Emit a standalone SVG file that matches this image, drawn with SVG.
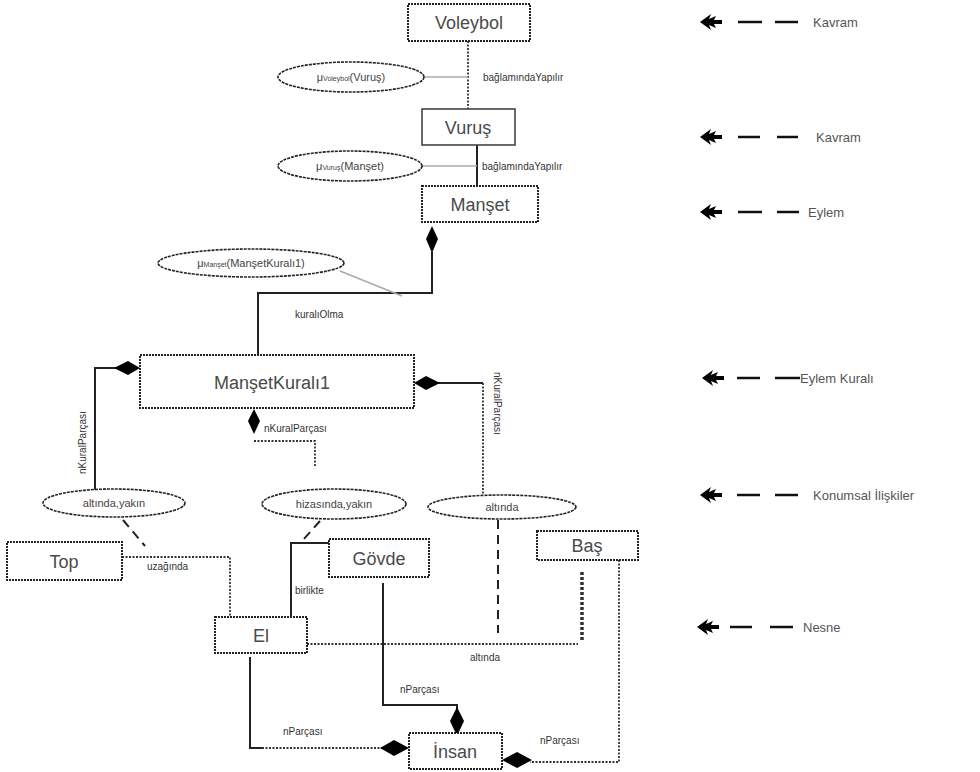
<svg xmlns="http://www.w3.org/2000/svg" width="980" height="772" viewBox="0 0 980 772">
  <style>
    .box { fill: #ffffff; stroke: #222222; stroke-width: 2; stroke-dasharray: 2 1; }
    .boxs { fill: #ffffff; stroke: #444444; stroke-width: 1.6; }
    .ell { fill: #ffffff; stroke: #222222; stroke-width: 1.6; stroke-dasharray: 3 1; }
    .nt { font-family: "Liberation Sans", Arial, sans-serif; font-size: 18px; fill: #4a4a4a; text-anchor: middle; }
    .et { font-family: "Liberation Sans", Arial, sans-serif; font-size: 11px; fill: #444444; text-anchor: middle; }
    .lb { font-family: "Liberation Sans", Arial, sans-serif; font-size: 10px; fill: #333333; }
    .lg { font-family: "Liberation Sans", Arial, sans-serif; font-size: 13px; fill: #555555; }
    .solid { fill: none; stroke: #222222; stroke-width: 2; }
    .dot { fill: none; stroke: #333333; stroke-width: 1.8; stroke-dasharray: 2 1.5; }
    .gray { fill: none; stroke: #aaaaaa; stroke-width: 1.5; }
    .dash { fill: none; stroke: #222222; stroke-width: 2; stroke-dasharray: 9 6; }
    .heavydot { fill: none; stroke: #333333; stroke-width: 3.5; stroke-dasharray: 3 2; }
    .dia { fill: #000000; }
    .ldash { stroke: #111111; stroke-width: 2.5; }
  </style>
  <defs>
    <!-- legend arrowhead: filled head with a short notched tail -->
    <polygon id="arr" points="0,0 11,-8 9,-3 16,-6 14,-2 22,-2 22,2 14,2 16,6 9,3 11,8" fill="#000000"/>
  </defs>
  <rect width="980" height="772" fill="#ffffff"/>

  <!-- connectors -->
  <g id="connectors">
    <!-- Voleybol - Vurus -->
    <line class="dot" x1="468" y1="41" x2="468" y2="109" stroke-width="2.5"/>
    <line class="gray" x1="425" y1="77" x2="468" y2="77"/>
    <text class="lb" x="483" y="81">bağlamındaYapılır</text>
    <!-- Vurus - Manset -->
    <line class="solid" x1="477" y1="145" x2="477" y2="186"/>
    <line class="gray" x1="422" y1="166" x2="477" y2="166"/>
    <text class="lb" x="482" y="170">bağlamındaYapılır</text>
    <!-- Manset - MansetKurali1 -->
    <polyline class="solid" points="432,252 432,293 258,293 258,355"/>
    <polygon class="dia" points="432,226 438,239 432,253 426,239"/>
    <line class="gray" x1="340" y1="271" x2="402" y2="296"/>
    <text class="lb" x="295" y="318">kuralıOlma</text>
    <!-- left rule part -->
    <polyline class="solid" points="118,368 95,368 95,490"/>
    <polygon class="dia" points="140,368 128,361 114,368 128,375"/>
    <text class="lb" transform="translate(86,474) rotate(-90)">nKuralParçası</text>
    <!-- right rule part -->
    <polyline class="solid" points="438,383 483,383"/>
    <line class="dot" x1="483" y1="383" x2="483" y2="495" stroke="#777777" stroke-width="2.5"/>
    <polygon class="dia" points="414,383 426,376 440,383 426,390"/>
    <text class="lb" transform="translate(494,372) rotate(90)">nKuralParçası</text>
    <!-- bottom rule part -->
    <polygon class="dia" points="254,409 260,421 254,434 248,421"/>
    <polyline class="dot" points="254,441 315,441 315,466"/>
    <text class="lb" x="264" y="432">nKuralParçası</text>
    <!-- relation ellipses to objects -->
    <line class="dash" x1="123" y1="520" x2="145" y2="546" stroke-dasharray="6 5"/>
    <line class="dash" x1="320" y1="521" x2="303" y2="540" stroke-dasharray="6 5"/>
    <line class="dash" x1="498" y1="520" x2="498" y2="633"/>
    <!-- Top - El -->
    <polyline class="dot" points="122,557 230,557 230,617"/>
    <text class="lb" x="147" y="570">uzağında</text>
    <!-- Govde - El -->
    <polyline class="solid" points="329,543 291,543 291,617"/>
    <text class="lb" x="295" y="594">birlikte</text>
    <!-- El - Bas -->
    <line class="dot" x1="307" y1="644" x2="578" y2="644" stroke-dasharray="3 2"/>
    <line class="heavydot" x1="582" y1="572" x2="582" y2="642"/>
    <text class="lb" x="470" y="661">altında</text>
    <!-- Govde - Insan -->
    <polyline class="solid" points="383,583 383,705 457,705 457,709"/>
    <polygon class="dia" points="457,707 464,721 457,736 450,721"/>
    <text class="lb" x="400" y="693">nParçası</text>
    <!-- El - Insan -->
    <polyline class="solid" points="250,657 250,748 262,748"/>
    <line class="dot" x1="262" y1="748" x2="382" y2="748" stroke-dasharray="3 2"/>
    <polygon class="dia" points="380,748 394,740 409,748 394,756"/>
    <text class="lb" x="283" y="735">nParçası</text>
    <!-- Bas - Insan -->
    <polyline class="dot" points="619,560 619,762 530,762" stroke-width="2.5"/>
    <polygon class="dia" points="502,760 517,752 532,760 517,768"/>
    <text class="lb" x="540" y="744">nParçası</text>
  </g>

  <!-- concept level -->
  <g id="node-voleybol">
    <rect class="box" x="408" y="4" width="122" height="37"/>
    <text class="nt" x="469" y="29">Voleybol</text>
  </g>
  <g id="node-mu-voleybol">
    <ellipse class="ell" cx="351" cy="77" rx="73" ry="15"/>
    <text class="et" x="351" y="81">μ<tspan font-size="7">Voleybol</tspan>(Vuruş)</text>
  </g>
  <g id="node-vurus">
    <rect class="boxs" x="422" y="109" width="93" height="36"/>
    <text class="nt" x="468" y="134">Vuruş</text>
  </g>
  <g id="node-mu-vurus">
    <ellipse class="ell" cx="350" cy="166" rx="72" ry="15"/>
    <text class="et" x="350" y="170">μ<tspan font-size="7">Vuruş</tspan>(Manşet)</text>
  </g>
  <g id="node-manset">
    <rect class="box" x="422" y="186" width="116" height="36"/>
    <text class="nt" x="480" y="211">Manşet</text>
  </g>
  <g id="node-mu-manset">
    <ellipse class="ell" cx="251" cy="263" rx="93" ry="14"/>
    <text class="et" x="251" y="267">μ<tspan font-size="7">Manşet</tspan>(ManşetKuralı1)</text>
  </g>
  <g id="node-mansetkurali1">
    <rect class="box" x="140" y="355" width="274" height="53"/>
    <text class="nt" x="272" y="389">ManşetKuralı1</text>
  </g>

  <!-- spatial relations -->
  <g id="node-altinda-yakin">
    <ellipse class="ell" cx="114" cy="503" rx="71" ry="14"/>
    <text class="et" x="114" y="507">altında,yakın</text>
  </g>
  <g id="node-hizasinda-yakin">
    <ellipse class="ell" cx="334" cy="504" rx="72" ry="15"/>
    <text class="et" x="334" y="508">hizasında,yakın</text>
  </g>
  <g id="node-altinda">
    <ellipse class="ell" cx="502" cy="507" rx="74" ry="12"/>
    <text class="et" x="502" y="511">altında</text>
  </g>

  <!-- objects -->
  <g id="node-top">
    <rect class="box" x="7" y="542" width="115" height="38"/>
    <text class="nt" x="64" y="568" font-size="20">Top</text>
  </g>
  <g id="node-govde">
    <rect class="box" x="329" y="539" width="100" height="38"/>
    <text class="nt" x="379" y="565" font-size="20">Gövde</text>
  </g>
  <g id="node-bas">
    <rect class="box" x="537" y="531" width="101" height="29" stroke-dasharray="4 2"/>
    <text class="nt" x="587" y="552">Baş</text>
  </g>
  <g id="node-el">
    <rect class="box" x="215" y="617" width="92" height="36"/>
    <text class="nt" x="261" y="642">El</text>
  </g>
  <g id="node-insan">
    <rect class="box" x="409" y="733" width="93" height="36"/>
    <text class="nt" x="455" y="758" font-size="20">İnsan</text>
  </g>

  <!-- level legend -->
  <g id="legend">
    <use href="#arr" x="700" y="22"/>
    <line class="ldash" x1="738" y1="22" x2="762" y2="22"/>
    <line class="ldash" x1="775" y1="22" x2="798" y2="22"/>
    <text class="lg" x="813" y="27">Kavram</text>

    <use href="#arr" x="700" y="137"/>
    <line class="ldash" x1="738" y1="137" x2="760" y2="137"/>
    <line class="ldash" x1="777" y1="137" x2="798" y2="137"/>
    <text class="lg" x="816" y="142">Kavram</text>

    <use href="#arr" x="700" y="212"/>
    <line class="ldash" x1="738" y1="212" x2="762" y2="212"/>
    <line class="ldash" x1="777" y1="212" x2="799" y2="212"/>
    <text class="lg" x="808" y="217">Eylem</text>

    <use href="#arr" x="702" y="378"/>
    <line class="ldash" x1="737" y1="378" x2="760" y2="378"/>
    <line class="ldash" x1="775" y1="378" x2="800" y2="378"/>
    <text class="lg" x="800" y="383">Eylem Kuralı</text>

    <use href="#arr" x="700" y="495"/>
    <line class="ldash" x1="737" y1="495" x2="760" y2="495"/>
    <line class="ldash" x1="775" y1="495" x2="798" y2="495"/>
    <text class="lg" x="813" y="500">Konumsal İlişkiler</text>

    <use href="#arr" x="697" y="627"/>
    <line class="ldash" x1="730" y1="627" x2="752" y2="627"/>
    <line class="ldash" x1="770" y1="627" x2="793" y2="627"/>
    <text class="lg" x="803" y="632">Nesne</text>
  </g>
</svg>
